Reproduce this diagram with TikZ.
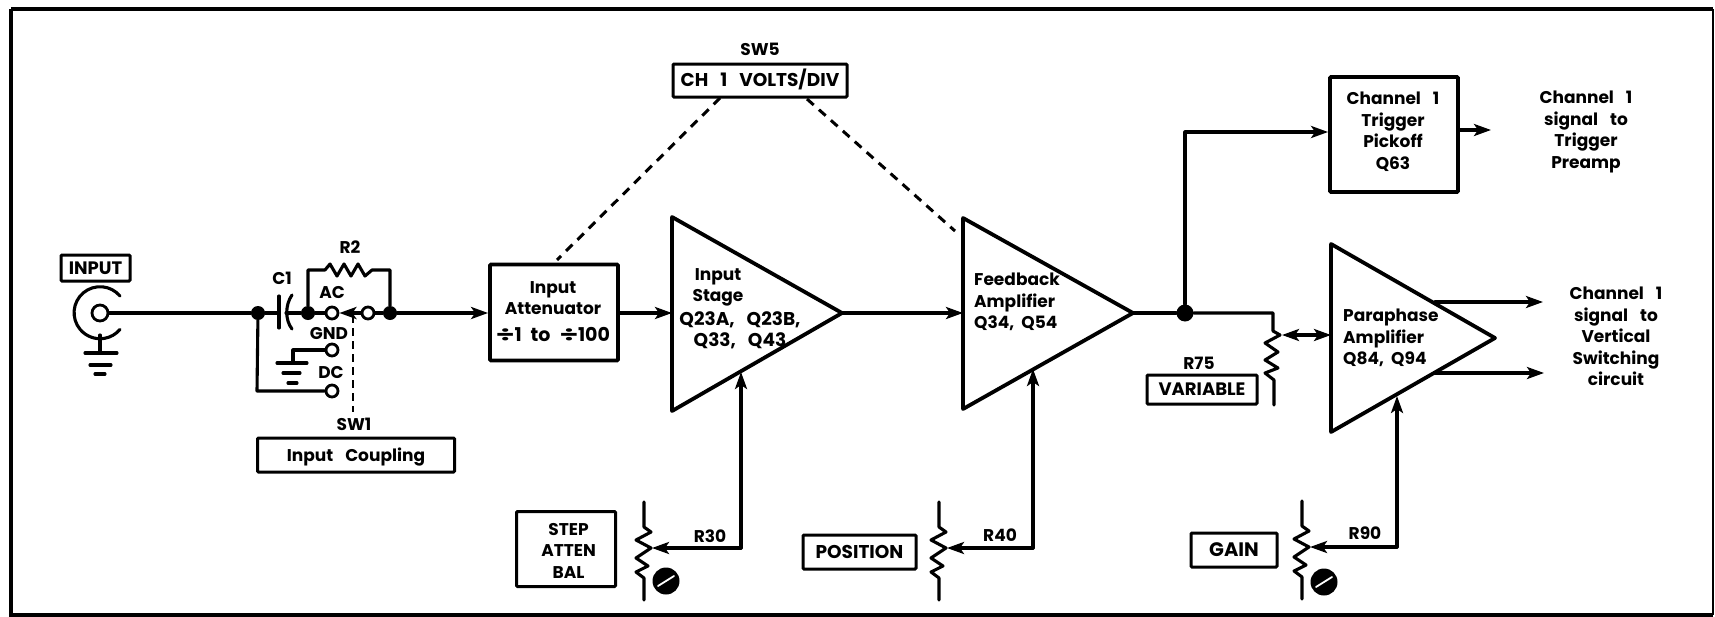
\documentclass[tikz,border=0pt]{standalone}
\usepackage{fontspec}
\setmainfont{Poppins}
\usetikzlibrary{arrows.meta}
\newcommand{\wgap}{\hspace{12pt}}
\newcommand{\fs}[1]{\fontsize{#1}{21.5}\selectfont}
\tikzset{
  wire/.style={line width=3.1pt,line cap=round,line join=round},
  sig/.style={wire,-{Stealth[length=17pt,width=12pt,inset=4pt]}},
  dsig/.style={wire,{Stealth[length=17pt,width=12pt,inset=4pt]}-{Stealth[length=17pt,width=12pt,inset=4pt]}},
  mech/.style={line width=3pt,dash pattern=on 9pt off 7pt},
  lab/.style={font=\fontsize{17}{21.5}\selectfont\bfseries,inner sep=0pt,align=center,anchor=north},
  onelab/.style={font=\fontsize{17}{21.5}\selectfont\bfseries,inner sep=0pt,text height=12pt,text depth=0pt,anchor=center},
  labbox/.style={onelab,draw,line width=3pt,rounded corners=1pt},
  block/.style={draw,line width=3.8pt,rounded corners=1pt,inner sep=0pt},
  amp/.style={line width=3.8pt,line join=round},
  dot/.style={circle,fill=black,inner sep=0pt,minimum size=14pt},
  bigdot/.style={circle,fill=black,inner sep=0pt,minimum size=17pt},
  contact/.style={circle,draw,fill=white,line width=2.8pt,inner sep=0pt,minimum size=12pt},
  pot/.pic={
    \draw[wire] (-7,-46) -- (-7,-21) -- (0,-16) -- (-15,-8) -- (0,0) -- (-15,10) -- (-3,18) -- (-15,24) -- (-7,30) -- (-7,52);
  },
  screw/.pic={
    \fill (0,0) circle (13.5);
    \draw[white,line width=1.8pt,line cap=round] (-8,5) -- (8,-5);
  }
}
\begin{document}
\begin{tikzpicture}[x=1pt,y=-1pt]
\useasboundingbox (0,0) rectangle (1715,616);
\fill[white] (0,0) rectangle (1715,616);
% frame
\draw[line width=4pt] (11,9) -- (1713,9) (11,9) -- (11,614.5) -- (1713,614.5);
\draw[line width=2.2pt] (1713,9) -- (1713,614.5);

% input connector
\node[labbox,minimum width=69pt,minimum height=26pt] (inputbox) at (95.5,268) {\fs{18}INPUT};
\node[contact,minimum size=16pt] (jack) at (100,313) {};
\draw[wire] (120,296) arc[start angle=-40,end angle=-320,radius=26];
\coordinate (jackgnd) at (100,353);
\draw[wire] (100,335) -- (jackgnd);
\draw[wire] (85,353) -- (117,353) (90,365) -- (111,365) (95,374) -- (105,374);

% input coupling
\node[dot] (n1) at (258,313) {};
\node[dot] (n2) at (308,313) {};
\node[dot] (n3) at (390,313) {};
\node[contact] (ac) at (332,313) {};
\node[contact] (sw) at (368,313) {};
\node[contact] (gnd) at (332,350) {};
\node[contact] (dc) at (332,391) {};
\coordinate (capa) at (279,313);
\coordinate (capb) at (286,313);
\draw[wire] (jack) -- (n1) -- (capa);
\draw[wire] (279,296) -- (279,328);
\draw[wire] (292,295) .. controls (285,305) and (285,320) .. (292,329);
\draw[wire] (capb) -- (n2) -- (ac);
\draw[wire] (sw) -- (n3);
\draw[sig] (sw) -- (ac);
\draw[wire] (n2) -- (308,270) -- (325,270) -- (330,264) -- (337,276) -- (344,264) -- (351,276) -- (358,264) -- (365,276) -- (372,270) -- (390,270) -- (n3);
\draw[wire] (gnd) -- (293,350) -- (293,363);
\draw[wire] (277,363) -- (307,363) (283,373) -- (300,373) (288,383) -- (297,383);
\draw[wire] (n1) -- (257,391) -- (dc);
\node[onelab] (c1) at (282,278) {C1};
\node[onelab] (r2) at (350,247) {R2};
\node[onelab] (aclab) at (332,292) {AC};
\node[onelab] (gndlab) at (329,333) {GND};
\node[onelab] (dclab) at (331,372) {DC};
\node[onelab] (sw1) at (354,424) {SW1};
\node[labbox,minimum width=197pt,minimum height=34pt] (coupling) at (356,455) {Input\wgap Coupling};
\coordinate (swtop) at (353,315);
\draw[mech,line width=2.2pt,dash pattern=on 8pt off 5pt] (swtop) -- (353,412);

% attenuator
\node[block,minimum width=128pt,minimum height=96pt] (atten) at (554,312.5) {};
\node[lab] (attentext) at (553,281) {Input\\Attenuator\\[5pt]{\fs{19}\scalebox{1.6}[1]{÷}1\hspace{9pt}to\hspace{9pt}\scalebox{1.6}[1]{÷}100}};
\draw[sig] (n3) -- (atten.west |- n3);

% SW5
\node[onelab] (sw5) at (760,49) {SW5};
\node[labbox,minimum width=174pt,minimum height=33pt] (volts) at (760,80.5) {\fs{18.5}CH\wgap 1\wgap VOLTS/DIV};
\draw[mech] (720,98) -- (557,260);
\draw[mech] (807,99) -- (955,231);

% input stage
\coordinate (a1in) at (672,313);
\coordinate (a1out) at (842,313);
\draw[amp] (672,217) -- (a1out) -- (672,411) -- cycle;
\node[lab] (a1t1) at (718,268) {Input\\Stage};
\node[lab] (a1t2) at (740,311) {\fs{18.5}Q23A,\wgap Q23B,\\\fs{18.5}Q33,\wgap Q43};
\draw[sig] (atten.east |- a1in) -- (a1in);

% feedback amp
\coordinate (a2in) at (963,313);
\coordinate (a2out) at (1133,313);
\draw[amp] (963,218) -- (a2out) -- (963,409) -- cycle;
\node[lab,align=left,anchor=north west] (a2t) at (974,273) {Feedback\\Amplifier\\Q34,~~Q54};
\draw[sig] (a1out) -- (a2in);

% junction and trigger pickoff
\node[bigdot] (j) at (1185,313) {};
\draw[wire] (a2out) -- (j);
\node[block,minimum width=128pt,minimum height=115pt] (trig) at (1394,134.5) {};
\node[lab] (trigt) at (1393,92) {Channel\wgap 1\\Trigger\\Pickoff\\Q63};
\coordinate (trigend) at (1491,130);
\draw[sig] (j) -- (1185,132) -- (trig.west |- 0,132);
\draw[sig] (trig.east |- trigend) -- (trigend);
\node[lab] (trigout) at (1586,91) {Channel\wgap 1\\signal\wgap to\\Trigger\\Preamp};

% variable pot
\draw[wire] (j) -- (1273,313) -- (1273,331) -- (1280,335) -- (1265,343) -- (1278,352) -- (1265,360) -- (1278,368) -- (1265,373) -- (1274,380) -- (1274,405);
\coordinate (wiper75) at (1282,335);
\node[onelab] (r75) at (1199,363) {R75};
\node[labbox,minimum width=110pt,minimum height=29pt] (variable) at (1202,389.5) {\fs{18}VARIABLE};

% paraphase
\coordinate (a3in) at (1331,335);
\coordinate (a3apex) at (1495,338);
\draw[amp] (1331,244) -- (a3apex) -- (1331,432) -- cycle;
\node[lab,align=left,anchor=north west] (a3t) at (1343,309) {Paraphase\\Amplifier\\Q84,~~Q94};
\draw[dsig] (wiper75) -- (a3in);
\coordinate (o1a) at (1435,302);
\coordinate (o1b) at (1543,302);
\coordinate (o2a) at (1435,373);
\coordinate (o2b) at (1544,373);
\draw[sig] (o1a) -- (o1b);
\draw[sig] (o2a) -- (o2b);
\node[lab] (outt) at (1616,287) {Channel\wgap 1\\signal\wgap to\\Vertical\\Switching\\circuit};

% controls
\pic at (651,548) {pot};
\pic at (666,581) {screw};
\coordinate (w30) at (652,548);
\coordinate (t30) at (741,372);
\draw[sig] (t30 |- w30) -- (w30);
\draw[sig] (t30 |- w30) -- (t30);
\node[onelab] (r30) at (710,536) {R30};
\node[labbox,minimum width=99pt,minimum height=75pt] (stepbal) at (566,549) {};
\node[lab] (stept) at (568.6,523) {STEP\\ATTEN\\BAL};

\pic at (946,548) {pot};
\coordinate (w40) at (947,548);
\coordinate (t40) at (1033,369);
\draw[sig] (t40 |- w40) -- (w40);
\draw[sig] (t40 |- w40) -- (t40);
\node[onelab] (r40) at (1000,535) {R40};
\node[labbox,minimum width=113pt,minimum height=34pt] (position) at (859.5,552) {\fs{18.5}POSITION};

\pic at (1309,547) {pot};
\pic at (1324,582) {screw};
\coordinate (w90) at (1310,547);
\coordinate (t90) at (1397,396);
\draw[sig] (t90 |- w90) -- (w90);
\draw[sig] (t90 |- w90) -- (t90);
\node[onelab] (r90) at (1365,533) {R90};
\node[labbox,minimum width=86pt,minimum height=34pt] (gain) at (1234,550) {\fs{19.5}GAIN};
\end{tikzpicture}
\end{document}
